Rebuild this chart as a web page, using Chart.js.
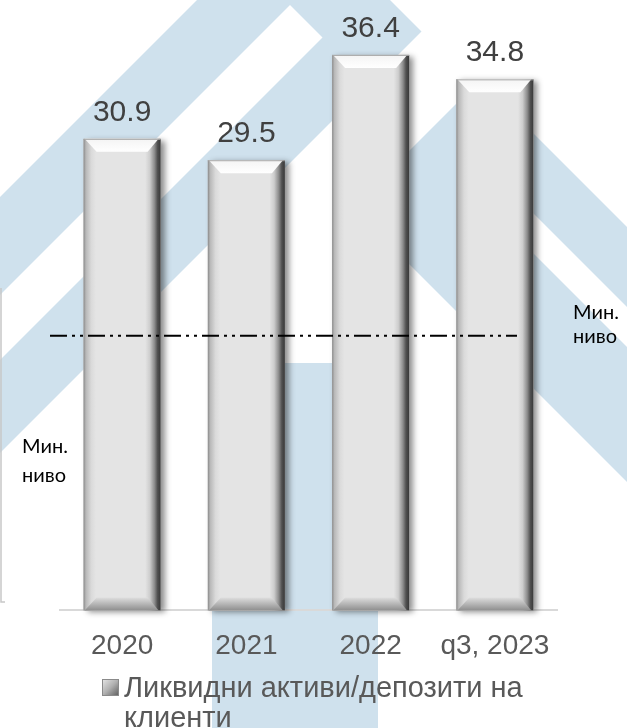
<!DOCTYPE html>
<html>
<head>
<meta charset="utf-8">
<script src="https://cdn.jsdelivr.net/npm/chart.js@4.4.0/dist/chart.umd.min.js"></script>
<style>
  html, body { margin: 0; padding: 0; background: #fff; }
  #wrap { width: 627px; height: 728px; }
</style>
</head>
<body>
<div id="wrap"><canvas id="chart" width="627" height="728"></canvas></div>
<script>
// data
var categories = ['2020', '2021', '2022', 'q3, 2023']
var ratioValues = [30.9, 29.5, 36.4, 34.8]
var seriesLabel = 'Ликвидни активи/депозити на клиенти'
var minLevel = 18
var minLevelText = ['Мин.', 'ниво']
var yRange = [0, 40]

var FONT = '"Liberation Sans", Arial, sans-serif'
var BLUE = '#cfe1ed'

// big pale logo behind the chart
function stripe(ctx, s1, s2) {
    // region s1 <= x+y <= s2
    ctx.beginPath()
    ctx.moveTo(s1 + 1000, -1000); ctx.lineTo(s2 + 1000, -1000)
    ctx.lineTo(s2 - 2000, 2000); ctx.lineTo(s1 - 2000, 2000)
    ctx.closePath()
}
function stripeR(ctx, d1, d2) {
    // region d1 <= x-y <= d2
    ctx.beginPath()
    ctx.moveTo(d1 - 1000, -1000); ctx.lineTo(d2 - 1000, -1000)
    ctx.lineTo(d2 + 2000, 2000); ctx.lineTo(d1 + 2000, 2000)
    ctx.closePath()
}
function clipLeftOf(ctx, c) {
    // x-y <= c
    ctx.beginPath()
    ctx.moveTo(c - 1000, -1000); ctx.lineTo(c + 2000, 2000)
    ctx.lineTo(-3000, 2000); ctx.lineTo(-3000, -1000)
    ctx.closePath(); ctx.clip()
}
function clipBelowOf(ctx, c) {
    // x+y >= c
    ctx.beginPath()
    ctx.moveTo(c + 1000, -1000); ctx.lineTo(c - 2000, 2000)
    ctx.lineTo(3000, 2000); ctx.lineTo(3000, -1000)
    ctx.closePath(); ctx.clip()
}

var watermark = {
    id: 'watermark',
    beforeDraw: function (chart) {
        var ctx = chart.ctx
        ctx.save()
        ctx.fillStyle = '#fff'
        ctx.fillRect(0, 0, chart.width, chart.height)
        ctx.fillStyle = BLUE
        // left double stripe
        ctx.save(); clipLeftOf(ctx, 390); stripe(ctx, 197, 453); ctx.fill(); ctx.restore()
        ctx.save(); clipLeftOf(ctx, 285); stripe(ctx, 295, 360); ctx.fillStyle = '#fff'; ctx.fill(); ctx.restore()
        // right double stripe
        ctx.save(); clipBelowOf(ctx, 560); stripeR(ctx, 145, 400); ctx.fill(); ctx.restore()
        ctx.save(); clipBelowOf(ctx, 680); stripeR(ctx, 280, 320); ctx.fillStyle = '#fff'; ctx.fill(); ctx.restore()
        // centre post
        ctx.fillRect(212, 363, 166, 365)
        // frame edge of a neighbouring chart
        ctx.strokeStyle = '#c8c8c8'
        ctx.lineWidth = 1.5
        ctx.beginPath(); ctx.moveTo(1, 288); ctx.lineTo(1, 602); ctx.lineTo(5, 602); ctx.stroke()
        ctx.restore()
    }
}

function barBoxes(chart) {
    var meta = chart.getDatasetMeta(0)
    return meta.data.map(function (el) {
        var p = el.getProps(['x', 'y', 'base', 'width'], true)
        return { l: p.x - p.width / 2, r: p.x + p.width / 2, t: p.y, b: p.base, x: p.x }
    })
}

var bevelBars = {
    id: 'bevelBars',
    beforeDatasetsDraw: function (chart) {
        var ctx = chart.ctx
        barBoxes(chart).forEach(function (k) {
            ctx.save()
            ctx.shadowColor = 'rgba(0,0,0,0.45)'
            ctx.shadowBlur = 6
            ctx.shadowOffsetX = 4
            ctx.shadowOffsetY = 2
            ctx.fillStyle = '#999'
            ctx.fillRect(k.l, k.t, k.r - k.l, k.b - k.t)
            ctx.restore()
        })
    },
    afterDatasetsDraw: function (chart) {
        var ctx = chart.ctx
        var bv = 13
        barBoxes(chart).forEach(function (k, i) {
            var w = k.r - k.l
            ctx.save()
            var g = ctx.createLinearGradient(k.l, 0, k.r, 0)
            g.addColorStop(0, '#8a8a8a')
            g.addColorStop(0.03, '#b8b8b8')
            g.addColorStop(0.10, '#dadada')
            g.addColorStop(0.16, '#e4e4e4')
            g.addColorStop(0.80, '#e4e4e4')
            g.addColorStop(0.86, '#cdcdcd')
            g.addColorStop(0.92, '#8c8c8c')
            g.addColorStop(0.96, '#505050')
            g.addColorStop(1, '#383838')
            ctx.fillStyle = g
            ctx.fillRect(k.l, k.t, w, k.b - k.t)

            // top bevel
            var gt = ctx.createLinearGradient(0, k.t, 0, k.t + bv)
            gt.addColorStop(0, '#f4f4f4')
            gt.addColorStop(1, '#ffffff')
            ctx.fillStyle = gt
            ctx.beginPath()
            ctx.moveTo(k.l + 1, k.t); ctx.lineTo(k.r - 2, k.t)
            ctx.lineTo(k.r - bv, k.t + bv); ctx.lineTo(k.l + bv, k.t + bv)
            ctx.closePath(); ctx.fill()
            ctx.strokeStyle = '#a8a8a8'; ctx.lineWidth = 1
            ctx.beginPath(); ctx.moveTo(k.l, k.t + 0.5); ctx.lineTo(k.r, k.t + 0.5); ctx.stroke()

            // bottom bevel
            var gb = ctx.createLinearGradient(0, k.b - bv, 0, k.b)
            gb.addColorStop(0, '#dedede')
            gb.addColorStop(1, '#8e8e8e')
            ctx.fillStyle = gb
            ctx.beginPath()
            ctx.moveTo(k.l + 1, k.b); ctx.lineTo(k.r - 2, k.b)
            ctx.lineTo(k.r - bv, k.b - bv); ctx.lineTo(k.l + bv, k.b - bv)
            ctx.closePath(); ctx.fill()
            ctx.restore()

            // value label
            ctx.save()
            ctx.font = '30px ' + FONT
            ctx.fillStyle = '#404040'
            ctx.textAlign = 'center'
            ctx.textBaseline = 'alphabetic'
            ctx.fillText(ratioValues[i].toFixed(1), k.x, k.t - 18)
            ctx.restore()
        })
    },
    afterDraw: function (chart) {
        var ctx = chart.ctx
        var area = chart.chartArea
        var yPix = chart.scales.y.getPixelForValue(minLevel)

        // minimum level line (dash-dot-dot)
        ctx.save()
        ctx.strokeStyle = '#000'
        ctx.lineWidth = 2
        ctx.setLineDash([17, 5, 3, 5, 3, 5])
        ctx.beginPath()
        ctx.moveTo(area.left - 10, yPix)
        ctx.lineTo(area.right - 40, yPix)
        ctx.stroke()
        ctx.restore()

        // "Мин. ниво" labels
        ctx.save()
        ctx.font = '20px Lato, "Noto Sans", sans-serif'
        ctx.fillStyle = '#000'
        ctx.textBaseline = 'alphabetic'
        ctx.fillText(minLevelText[0], area.right + 16, yPix - 17)
        ctx.fillText(minLevelText[1], area.right + 16, yPix + 7)
        ctx.fillText(minLevelText[0], 22, 453)
        ctx.fillText(minLevelText[1], 22, 482)
        ctx.restore()

        // legend, wrapped like the original
        ctx.save()
        ctx.font = '29px ' + FONT
        var words = seriesLabel.split(' ')
        var lines = [], cur = ''
        words.forEach(function (wd) {
            var test = cur ? cur + ' ' + wd : wd
            if (ctx.measureText(test).width > 430 && cur) { lines.push(cur); cur = wd } else cur = test
        })
        lines.push(cur)
        var mx = 102, my = 679, ms = 17
        var gm = ctx.createLinearGradient(mx, my, mx + ms, my + ms)
        gm.addColorStop(0, '#e8e8e8')
        gm.addColorStop(0.5, '#b0b0b0')
        gm.addColorStop(1, '#5a5a5a')
        ctx.fillStyle = gm
        ctx.fillRect(mx, my, ms, ms)
        ctx.strokeStyle = '#8a8a8a'; ctx.lineWidth = 1
        ctx.strokeRect(mx + 0.5, my + 0.5, ms - 1, ms - 1)
        ctx.fillStyle = '#595959'
        ctx.textBaseline = 'alphabetic'
        lines.forEach(function (ln, j) {
            ctx.fillText(ln, 124, 697 + j * 30)
        })
        ctx.restore()
    }
}

new Chart(document.getElementById('chart'), {
    type: 'bar',
    data: {
        labels: categories,
        datasets: [{
            label: seriesLabel,
            data: ratioValues,
            backgroundColor: '#e4e4e4',
            borderWidth: 0,
            barPercentage: 0.62,
            categoryPercentage: 1
        }]
    },
    options: {
        responsive: false,
        animation: false,
        layout: { padding: { left: 60, right: 70, top: 0, bottom: 46 } },
        plugins: {
            legend: { display: false },
            tooltip: { enabled: false }
        },
        scales: {
            x: {
                grid: { display: false, drawTicks: false },
                border: { display: true, color: '#d9d9d9', width: 2 },
                ticks: { color: '#595959', font: { family: FONT, size: 28 }, padding: 19 }
            },
            y: {
                display: false,
                min: yRange[0],
                max: yRange[1]
            }
        }
    },
    plugins: [watermark, bevelBars]
})
</script>
</body>
</html>
